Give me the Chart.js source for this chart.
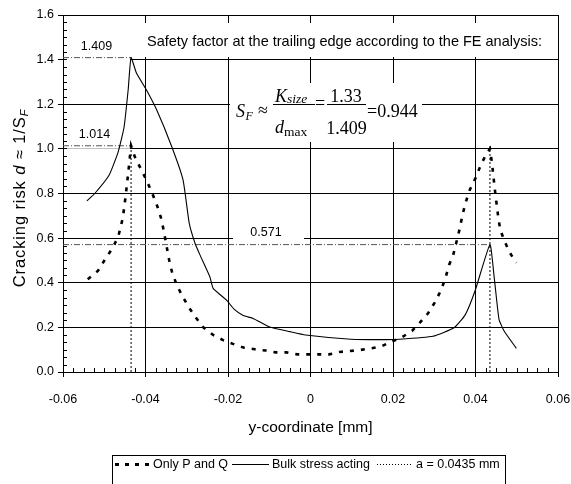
<!DOCTYPE html>
<html>
<head>
<meta charset="utf-8">
<script src="https://cdn.jsdelivr.net/npm/chart.js@4/dist/chart.umd.min.js"></script>
<style>
html,body{margin:0;padding:0;background:#fff;}
#wrap{width:571px;height:484px;position:relative;}
</style>
</head>
<body>
<div id="wrap"><canvas id="c" width="571" height="484"></canvas></div>
<script>
// ---- data ----
const seriesNames = ["Only P and Q", "Bulk stress acting", "a = 0.0435 mm"];
const yCoordPQ = [-0.054, -0.0515, -0.0499, -0.048, -0.0466, -0.0455, -0.0448, -0.0442, -0.0435, -0.0426, -0.0412, -0.0396, -0.0383, -0.0371, -0.0361, -0.0355, -0.0349, -0.0343, -0.0336, -0.0325, -0.031, -0.0295, -0.0278, -0.026, -0.0236, -0.0212, -0.0188, -0.0161, -0.0135, -0.0108, -0.0084, -0.0058, -0.0032, -0.0006, 0.0021, 0.0045, 0.0071, 0.0095, 0.0122, 0.0146, 0.0172, 0.0196, 0.022, 0.0246, 0.0265, 0.0285, 0.0301, 0.0316, 0.0327, 0.0336, 0.0346, 0.0354, 0.0362, 0.0368, 0.0376, 0.0386, 0.04, 0.0412, 0.0425, 0.0435, 0.044, 0.0447, 0.0451, 0.0455, 0.046, 0.0471, 0.0483, 0.0499];
const riskPQ = [0.416, 0.454, 0.502, 0.555, 0.607, 0.69, 0.79, 0.89, 1.014, 0.965, 0.913, 0.853, 0.798, 0.741, 0.682, 0.625, 0.565, 0.505, 0.45, 0.393, 0.338, 0.29, 0.244, 0.20, 0.166, 0.143, 0.126, 0.109, 0.102, 0.096, 0.088, 0.088, 0.079, 0.079, 0.079, 0.079, 0.09, 0.094, 0.099, 0.106, 0.115, 0.136, 0.154, 0.184, 0.221, 0.263, 0.311, 0.365, 0.42, 0.48, 0.525, 0.584, 0.644, 0.70, 0.759, 0.816, 0.869, 0.924, 0.973, 1.0, 0.936, 0.816, 0.756, 0.696, 0.637, 0.584, 0.535, 0.49];
const yCoordBulk = [-0.0542, -0.0523, -0.0488, -0.0466, -0.0452, -0.0442, -0.0435, -0.0422, -0.0399, -0.0373, -0.0337, -0.0309, -0.0294, -0.028, -0.0268, -0.0244, -0.0236, -0.0204, -0.0186, -0.0163, -0.0139, -0.0099, -0.005, -0.0012, 0.0098, 0.0168, 0.0216, 0.0297, 0.0348, 0.0375, 0.0399, 0.0435, 0.0445, 0.0457, 0.0469, 0.0499];
const riskBulk = [0.767, 0.80, 0.883, 0.988, 1.097, 1.265, 1.409, 1.34, 1.268, 1.175, 1.013, 0.861, 0.667, 0.577, 0.525, 0.427, 0.375, 0.323, 0.283, 0.253, 0.24, 0.202, 0.181, 0.166, 0.147, 0.145, 0.147, 0.16, 0.198, 0.256, 0.364, 0.571, 0.43, 0.236, 0.185, 0.106];
const crackX = [-0.0435, 0.0435];
const crackTop = [1.014, 1.014];
const peakValues = [1.409, 1.014, 0.571];
const peakX = [-0.0435, -0.0435, 0.0435];
const peakLabels = ["1.409", "1.014", "0.571"];
const xTickValues = [-0.06, -0.04, -0.02, 0, 0.02, 0.04, 0.06];
const xTickLabels = ["-0.06", "-0.04", "-0.02", "0", "0.02", "0.04", "0.06"];
const yTickLabels = ["0.0", "0.2", "0.4", "0.6", "0.8", "1.0", "1.2", "1.4", "1.6"];
const titleText = "Safety factor at the trailing edge according to the FE analysis:";
const xTitle = "y-coordinate [mm]";

// ---- build datasets ----
const toXY = (xs, ys) => xs.map((x, i) => ({x: x, y: ys[i]}));
const crackPts = [];
crackX.forEach((x, i) => {
  if (i > 0) crackPts.push({x: x, y: null});
  crackPts.push({x: x, y: 0}, {x: x, y: crackTop[i]});
});
const peakPts = [];
peakValues.forEach((v, i) => {
  if (i > 0) peakPts.push({x: -0.06, y: null});
  peakPts.push({x: -0.06, y: v}, {x: peakX[i], y: v});
});

const AX = "'Liberation Sans', Arial, sans-serif";
const SERIF = "'Liberation Serif', 'Times New Roman', serif";

const boxesPlugin = {
  id: 'boxes',
  beforeDatasetsDraw(chart) {
    const ctx = chart.ctx, xs = chart.scales.x, ys = chart.scales.y;
    ctx.save();
    ctx.fillStyle = '#fff';
    // white boxes behind texts
    ctx.fillRect(140, 23, 416, 34);
    ctx.fillRect(230, 83, 192, 59);
    ctx.fillRect(67, ys.getPixelForValue(peakValues[0]) - 18, xs.getPixelForValue(peakX[0]) - 68, 21);
    ctx.fillRect(67, ys.getPixelForValue(peakValues[1]) - 18, xs.getPixelForValue(peakX[1]) - 68, 21);
    ctx.fillRect(233, ys.getPixelForValue(0.6) - 10, 71, 14);
    // minor ticks
    ctx.strokeStyle = '#000';
    ctx.lineWidth = 1;
    const ca = chart.chartArea;
    ctx.beginPath();
    for (let k = 0; k <= 48; k++) {
      if (k % 8 === 0) continue;
      const px = Math.round(xs.getPixelForValue(-0.06 + k * 0.0025)) + 0.5;
      ctx.moveTo(px, ca.bottom); ctx.lineTo(px, ca.bottom - 4);
    }
    for (let k = 0; k <= 48; k++) {
      if (k % 6 === 0) continue;
      const py = Math.round(ys.getPixelForValue(k * 0.2 / 6)) + 0.5;
      ctx.moveTo(ca.left, py); ctx.lineTo(ca.left + 4, py);
    }
    ctx.stroke();
    // texts
    ctx.fillStyle = '#000';
    ctx.font = "14.5px " + AX;
    ctx.textBaseline = 'middle';
    ctx.textAlign = 'left';
    ctx.fillText(titleText, 147, 42);
    ctx.font = "12.5px " + AX;
    ctx.textAlign = 'center';
    ctx.fillText(peakLabels[0], 96.5, ys.getPixelForValue(peakValues[0]) - 11);
    ctx.fillText(peakLabels[1], 94.5, ys.getPixelForValue(peakValues[1]) - 11);
    ctx.fillText(peakLabels[2], 266, ys.getPixelForValue(peakValues[2]) - 12);
    // formula
    ctx.textBaseline = 'alphabetic';
    ctx.textAlign = 'left';
    ctx.font = "italic 18px " + SERIF; ctx.fillText("S", 236, 116.5);
    ctx.font = "italic 12px " + SERIF; ctx.fillText("F", 245.5, 120);
    ctx.font = "18px " + SERIF; ctx.fillText("\u2248", 258, 116);
    ctx.font = "italic 18px " + SERIF; ctx.fillText("K", 275, 101.5);
    ctx.font = "italic 13.5px " + SERIF; ctx.fillText("size", 287, 103);
    ctx.font = "italic 18px " + SERIF; ctx.fillText("d", 275, 133);
    ctx.font = "13.5px " + SERIF; ctx.fillText("max", 284, 135.5);
    ctx.font = "18px " + SERIF; ctx.fillText("=", 315, 109);
    ctx.textAlign = 'center';
    ctx.fillText("1.33", 346, 102);
    ctx.fillText("1.409", 346.5, 134);
    ctx.textAlign = 'left';
    ctx.fillText("=0.944", 367, 116.5);
    ctx.beginPath();
    ctx.moveTo(273, 104.5); ctx.lineTo(315, 104.5);
    ctx.moveTo(327, 104.5); ctx.lineTo(366, 104.5);
    ctx.stroke();
    ctx.restore();
  },
  afterDraw(chart) {
    const ctx = chart.ctx;
    ctx.save();
    // y axis title, mixed styles
    const parts = [
      {t: "Cracking risk ", f: "16.5px " + AX, dy: 0},
      {t: "d", f: "italic 16.5px " + AX, dy: 0},
      {t: " \u2248 1/S", f: "16.5px " + AX, dy: 0},
      {t: "F", f: "italic 11px " + AX, dy: 3.5}
    ];
    if ('letterSpacing' in ctx) ctx.letterSpacing = '0.9px';
    let total = 0;
    parts.forEach(p => { ctx.font = p.f; p.w = ctx.measureText(p.t).width; total += p.w; });
    ctx.translate(24.5, 198);
    ctx.rotate(-Math.PI / 2);
    ctx.fillStyle = '#000';
    ctx.textBaseline = 'alphabetic';
    ctx.textAlign = 'left';
    let x = -total / 2;
    parts.forEach(p => { ctx.font = p.f; ctx.fillText(p.t, x, p.dy); x += p.w; });
    ctx.restore();

    // legend box
    ctx.save();
    ctx.strokeStyle = '#000';
    ctx.lineWidth = 1;
    ctx.strokeRect(112.5, 455.5, 393, 40);
    const ly = 464.5;
    ctx.lineWidth = 3; ctx.setLineDash([4, 6]);
    ctx.beginPath(); ctx.moveTo(115, ly); ctx.lineTo(151, ly); ctx.stroke();
    ctx.lineWidth = 1; ctx.setLineDash([]);
    ctx.beginPath(); ctx.moveTo(232, ly); ctx.lineTo(269, ly); ctx.stroke();
    ctx.setLineDash([1, 2]);
    ctx.beginPath(); ctx.moveTo(377, ly); ctx.lineTo(413, ly); ctx.stroke();
    ctx.setLineDash([]);
    ctx.fillStyle = '#000';
    ctx.font = "12.5px " + AX;
    ctx.textBaseline = 'middle';
    ctx.fillText(seriesNames[0], 153, 464.5);
    ctx.fillText(seriesNames[1], 272, 464.5);
    ctx.fillText(seriesNames[2], 416, 464.5);
    ctx.restore();
  }
};

new Chart(document.getElementById('c'), {
  type: 'scatter',
  data: {
    datasets: [
      {label: seriesNames[0], data: toXY(yCoordPQ, riskPQ), showLine: true, borderColor: '#000', backgroundColor: '#000', borderWidth: 2.6, borderDash: [4, 7], pointRadius: 0, tension: 0},
      {label: seriesNames[1], data: toXY(yCoordBulk, riskBulk), showLine: true, borderColor: '#000', borderWidth: 1.1, pointRadius: 0, tension: 0.15},
      {label: seriesNames[2], data: crackPts, showLine: true, spanGaps: false, borderColor: '#000', borderWidth: 1, borderDash: [2, 2], pointRadius: 0},
      {label: 'peaks', data: peakPts, showLine: true, spanGaps: false, borderColor: '#555', borderWidth: 1, borderDash: [6, 2, 1, 2], pointRadius: 0}
    ]
  },
  options: {
    responsive: false,
    animation: false,
    layout: {padding: {top: 15, right: 13, bottom: 42, left: 0}},
    plugins: {legend: {display: false}, tooltip: {enabled: false}},
    scales: {
      x: {
        type: 'linear', min: -0.06, max: 0.06,
        afterFit: s => { s.height = 70; s.paddingRight = 0; s.paddingLeft = 0; },
        afterBuildTicks: s => { s.ticks = xTickValues.map(v => ({value: v})); },
        ticks: {color: '#000', font: {size: 12.5, family: AX}, padding: 15, maxRotation: 0,
          callback: (v) => { const i = xTickValues.findIndex(t => Math.abs(t - v) < 1e-9); return i >= 0 ? xTickLabels[i] : ''; }},
        grid: {color: '#000', lineWidth: 1, tickLength: 5, tickColor: '#000'},
        border: {color: '#000', width: 1},
        title: {display: true, text: xTitle, color: '#000', font: {size: 15.5, family: AX}, padding: {top: 0, bottom: 5}}
      },
      y: {
        type: 'linear', min: 0, max: 1.6,
        afterFit: s => { s.width = 63; s.paddingTop = 0; s.paddingBottom = 0; },
        ticks: {stepSize: 0.2, color: '#000', font: {size: 12.5, family: AX}, padding: 4,
          callback: (v) => yTickLabels[Math.round(v / 0.2)]},
        grid: {color: '#000', lineWidth: 1, tickLength: 5, tickColor: '#000'},
        border: {color: '#000', width: 1}
      }
    }
  },
  plugins: [boxesPlugin]
});
</script>
</body>
</html>
